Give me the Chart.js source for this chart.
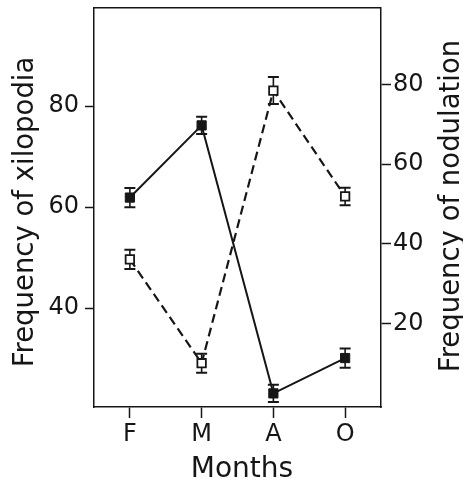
<!DOCTYPE html>
<html>
<head>
<meta charset="utf-8">
<style>
  html, body { margin: 0; padding: 0; background: #fff; }
  #wrap { width: 463px; height: 479px; }
</style>
<script src="https://cdn.jsdelivr.net/npm/chart.js@4/dist/chart.umd.min.js"></script>
</head>
<body>
<div id="wrap"><canvas id="chart" width="463" height="479"></canvas></div>
<script>
// Data
const months = ['F', 'M', 'A', 'O'];
const xilopodia = [61.9, 76.2, 23.1, 30.1];      // filled squares, left axis
const xilopodiaErr = [1.9, 1.7, 1.7, 1.9];
const nodulation = [36.1, 10.0, 78.5, 51.9];     // open squares, right axis
const nodulationErr = [2.4, 2.4, 3.4, 2.2];
const leftTicks = [40, 60, 80];
const rightTicks = [20, 40, 60, 80];

const ink = '#161616';
const tickFont = { family: 'DejaVu Sans', size: 24 };

// vertical error bars with caps, drawn under the markers
const errorBars = {
    id: 'errorBars',
    beforeDatasetsDraw(chart) {
        const ctx = chart.ctx;
        chart.data.datasets.forEach((ds, i) => {
            const meta = chart.getDatasetMeta(i);
            const scale = chart.scales[ds.yAxisID];
            meta.data.forEach((pt, j) => {
                const v = ds.data[j];
                const e = ds.errors[j];
                const yHi = scale.getPixelForValue(v + e);
                const yLo = scale.getPixelForValue(v - e);
                ctx.save();
                ctx.strokeStyle = ink;
                ctx.lineWidth = 1.6;
                ctx.beginPath();
                ctx.moveTo(pt.x, yHi);
                ctx.lineTo(pt.x, yLo);
                ctx.stroke();
                ctx.lineWidth = 2;
                ctx.beginPath();
                ctx.moveTo(pt.x - 5.5, yHi);
                ctx.lineTo(pt.x + 5.5, yHi);
                ctx.moveTo(pt.x - 5.5, yLo);
                ctx.lineTo(pt.x + 5.5, yLo);
                ctx.stroke();
                ctx.restore();
            });
        });
    }
};

// top frame line and the three axis titles
const frameAndTitles = {
    id: 'frameAndTitles',
    afterDraw(chart) {
        const ctx = chart.ctx;
        const a = chart.chartArea;
        ctx.save();
        ctx.strokeStyle = ink;
        ctx.lineWidth = 1.5;
        ctx.beginPath();
        ctx.moveTo(a.left, a.top);
        ctx.lineTo(a.right, a.top);
        ctx.stroke();

        ctx.fillStyle = ink;
        ctx.textAlign = 'center';
        ctx.textBaseline = 'alphabetic';
        ctx.font = '27.5px "DejaVu Sans"';

        ctx.save();
        ctx.translate(33, 212);
        ctx.rotate(-Math.PI / 2);
        ctx.fillText('Frequency of xilopodia', 0, 0);
        ctx.restore();

        ctx.save();
        ctx.translate(459, 206);
        ctx.rotate(-Math.PI / 2);
        ctx.fillText('Frequency of nodulation', 0, 0);
        ctx.restore();

        ctx.font = '28px "DejaVu Sans"';
        ctx.fillText('Months', 242, 477);
        ctx.restore();
    }
};

function noPad(s) {
    s.paddingTop = 0;
    s.paddingBottom = 0;
}

new Chart(document.getElementById('chart'), {
    type: 'line',
    data: {
        labels: months,
        datasets: [
            {
                label: 'xilopodia',
                data: xilopodia,
                errors: xilopodiaErr,
                yAxisID: 'yLeft',
                borderColor: ink,
                borderWidth: 2,
                backgroundColor: ink,
                pointStyle: 'rect',
                pointRadius: 6.5,
                pointBorderWidth: 1,
                pointBackgroundColor: ink,
                pointBorderColor: ink,
                tension: 0
            },
            {
                label: 'nodulation',
                data: nodulation,
                errors: nodulationErr,
                yAxisID: 'yRight',
                borderColor: ink,
                borderWidth: 2.2,
                borderDash: [9, 5],
                pointStyle: 'rect',
                pointRadius: 6,
                pointBorderWidth: 1.8,
                pointBackgroundColor: '#fff',
                pointBorderColor: ink,
                tension: 0
            }
        ]
    },
    options: {
        responsive: false,
        animation: false,
        layout: { padding: { top: 7, left: 0, right: 0, bottom: 0 } },
        plugins: {
            legend: { display: false },
            tooltip: { enabled: false }
        },
        scales: {
            x: {
                offset: true,
                grid: { display: true, drawOnChartArea: false, tickLength: 11, tickColor: ink, tickWidth: 1.5, offset: false },
                border: { color: ink, width: 1.5 },
                ticks: { color: ink, font: tickFont, padding: 2, maxRotation: 0 },
                afterFit: s => { s.height = 72; s.paddingLeft = 0; s.paddingRight = 0; }
            },
            yLeft: {
                position: 'left',
                min: 20.4,
                max: 99.5,
                grid: { drawOnChartArea: false, tickLength: 9, tickColor: ink, tickWidth: 1.5 },
                border: { color: ink, width: 1.5 },
                ticks: { color: ink, font: tickFont, padding: 6 },
                afterBuildTicks: s => { s.ticks = leftTicks.map(v => ({ value: v })); },
                afterFit: s => { s.width = 94; noPad(s); }
            },
            yRight: {
                position: 'right',
                min: -1,
                max: 99.3,
                grid: { drawOnChartArea: false, tickLength: 10, tickColor: ink, tickWidth: 1.5 },
                border: { color: ink, width: 1.5 },
                ticks: { color: ink, font: tickFont, padding: 2 },
                afterBuildTicks: s => { s.ticks = rightTicks.map(v => ({ value: v })); },
                afterFit: s => { s.width = 82; noPad(s); }
            }
        }
    },
    plugins: [errorBars, frameAndTitles]
});
</script>
</body>
</html>
